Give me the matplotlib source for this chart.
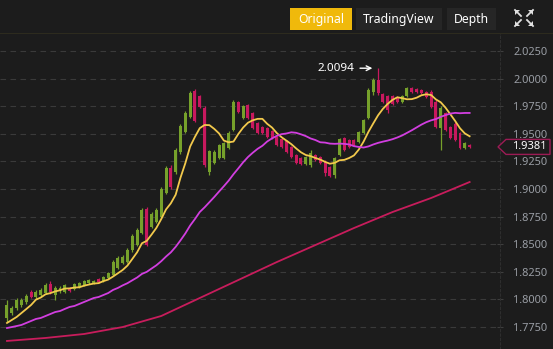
import matplotlib
matplotlib.use("Agg")
import matplotlib.pyplot as plt
import numpy as np
import pandas as pd
from matplotlib.patches import Rectangle, Polygon

plt.rcParams['font.family'] = ['Noto Sans', 'DejaVu Sans']

opens = [1.7831, 1.7876, 1.7922, 1.7949, 1.7976, 1.8067, 1.8021, 1.8039, 1.8057, 1.8139,
         1.8039, 1.8076, 1.8067, 1.8103, 1.8094, 1.8112, 1.8130, 1.8148, 1.8148, 1.8184,
         1.8166, 1.8193, 1.8221, 1.8284, 1.8329, 1.8338, 1.8447, 1.8492, 1.8601, 1.8819,
         1.8655, 1.8701, 1.8746, 1.8963, 1.9190, 1.9154, 1.9335, 1.9516, 1.9652, 1.9888,
         1.9842, 1.9734, 1.9154, 1.9235, 1.9281, 1.9281, 1.9371, 1.9534, 1.9788, 1.9643,
         1.9761, 1.9688, 1.9598, 1.9561, 1.9552, 1.9525, 1.9471, 1.9453, 1.9435, 1.9380,
         1.9308, 1.9281, 1.9226, 1.9217, 1.9308, 1.9290, 1.9244, 1.9199, 1.9127, 1.9308,
         1.9462, 1.9444, 1.9444, 1.9425, 1.9507, 1.9643, 1.9879, 1.9987, 1.9860, 1.9842,
         1.9842, 1.9833, 1.9788, 1.9842, 1.9915, 1.9906, 1.9897, 1.9879, 1.9879, 1.9788,
         1.9552, 1.9688, 1.9561, 1.9589, 1.9507, 1.9371, 1.9398]
highs = [1.7994, 1.7940, 1.8012, 1.8012, 1.8048, 1.8085, 1.8085, 1.8103, 1.8148, 1.8166,
         1.8121, 1.8121, 1.8139, 1.8112, 1.8148, 1.8157, 1.8175, 1.8184, 1.8175, 1.8193,
         1.8211, 1.8248, 1.8356, 1.8393, 1.8402, 1.8465, 1.8592, 1.8646, 1.8828, 1.8837,
         1.8791, 1.8828, 1.9018, 1.9208, 1.9217, 1.9371, 1.9589, 1.9706, 1.9888, 1.9906,
         1.9851, 1.9752, 1.9353, 1.9353, 1.9407, 1.9425, 1.9525, 1.9806, 1.9797, 1.9761,
         1.9770, 1.9697, 1.9607, 1.9570, 1.9561, 1.9534, 1.9480, 1.9462, 1.9444, 1.9389,
         1.9317, 1.9290, 1.9299, 1.9353, 1.9317, 1.9299, 1.9262, 1.9208, 1.9290, 1.9462,
         1.9471, 1.9453, 1.9453, 1.9525, 1.9634, 1.9915, 2.0005, 2.0094, 1.9869, 1.9851,
         1.9851, 1.9842, 1.9851, 1.9924, 1.9924, 1.9915, 1.9906, 1.9888, 1.9897, 1.9806,
         1.9752, 1.9697, 1.9570, 1.9607, 1.9516, 1.9425, 1.9407]
lows = [1.7795, 1.7858, 1.7903, 1.7931, 1.7958, 1.8012, 1.8003, 1.8021, 1.8048, 1.8048,
        1.7994, 1.8057, 1.8057, 1.8067, 1.8085, 1.8103, 1.8121, 1.8139, 1.8139, 1.8148,
        1.8157, 1.8184, 1.8211, 1.8275, 1.8320, 1.8329, 1.8429, 1.8483, 1.8592, 1.8483,
        1.8646, 1.8692, 1.8737, 1.8954, 1.9000, 1.9136, 1.9317, 1.9507, 1.9643, 1.9607,
        1.9734, 1.9199, 1.9127, 1.9226, 1.9272, 1.9272, 1.9362, 1.9525, 1.9688, 1.9634,
        1.9634, 1.9543, 1.9498, 1.9498, 1.9462, 1.9453, 1.9389, 1.9371, 1.9326, 1.9281,
        1.9226, 1.9217, 1.9217, 1.9199, 1.9253, 1.9226, 1.9117, 1.9108, 1.9099, 1.9299,
        1.9344, 1.9371, 1.9389, 1.9416, 1.9498, 1.9634, 1.9851, 1.9851, 1.9779, 1.9688,
        1.9761, 1.9779, 1.9779, 1.9833, 1.9869, 1.9869, 1.9860, 1.9824, 1.9734, 1.9552,
        1.9353, 1.9525, 1.9453, 1.9435, 1.9362, 1.9362, 1.9371]
closes = [1.7949, 1.7922, 1.7994, 1.7994, 1.8030, 1.8021, 1.8067, 1.8085, 1.8130, 1.8067,
          1.8103, 1.8103, 1.8130, 1.8076, 1.8139, 1.8148, 1.8166, 1.8175, 1.8166, 1.8157,
          1.8202, 1.8239, 1.8338, 1.8375, 1.8384, 1.8447, 1.8574, 1.8628, 1.8809, 1.8492,
          1.8773, 1.8809, 1.9000, 1.9190, 1.9018, 1.9353, 1.9570, 1.9688, 1.9869, 1.9616,
          1.9743, 1.9217, 1.9344, 1.9335, 1.9398, 1.9416, 1.9507, 1.9788, 1.9697, 1.9752,
          1.9643, 1.9552, 1.9507, 1.9507, 1.9471, 1.9462, 1.9398, 1.9380, 1.9335, 1.9290,
          1.9235, 1.9226, 1.9290, 1.9326, 1.9262, 1.9235, 1.9145, 1.9117, 1.9281, 1.9453,
          1.9353, 1.9380, 1.9398, 1.9516, 1.9625, 1.9897, 1.9987, 1.9869, 1.9788, 1.9715,
          1.9770, 1.9788, 1.9842, 1.9915, 1.9879, 1.9879, 1.9869, 1.9833, 1.9743, 1.9561,
          1.9734, 1.9534, 1.9462, 1.9444, 1.9371, 1.9416, 1.9381]

# MA7 / MA25 values before enough candles are visible
ma7_head = [1.7786, 1.7813, 1.7840, 1.7876, 1.7912, 1.7949]
ma25_head = [1.7740, 1.7749, 1.7758, 1.7768, 1.7786, 1.7804, 1.7822, 1.7831, 1.7849, 1.7867,
             1.7885, 1.7894, 1.7913, 1.7931, 1.7940, 1.7958, 1.7976, 1.7994, 1.8012, 1.8021,
             1.8039, 1.8057, 1.8085, 1.8103]
# MA99 at every 8th candle
ma99_idx = [0, 8, 16, 24, 32, 40, 48, 56, 64, 72, 80, 88, 96]
ma99_val = [1.7623, 1.7650, 1.7686, 1.7749, 1.7849, 1.8012, 1.8175, 1.8338, 1.8492, 1.8646,
            1.8791, 1.8918, 1.9063]

yticks = [1.775, 1.800, 1.825, 1.850, 1.875, 1.900, 1.925, 1.950, 1.975, 2.000, 2.025]
last_price = 1.9381
max_price = 2.0094
buttons = ["Original", "TradingView", "Depth"]

BG = "#1c1c1c"
GREEN = "#76a12b"
RED = "#c8195e"
YEL = "#f2c94c"
PUR = "#d23ee0"
CRIM = "#c81c5c"
GRAY = "#9a9ea5"

W, H = 553, 349
fig = plt.figure(figsize=(W / 100, H / 100), dpi=100, facecolor=BG)

ax_left, ax_right, ax_top = 0, 500, 33
ax = fig.add_axes([ax_left / W, 0, (ax_right - ax_left) / W, (H - ax_top) / H])
ax.set_facecolor(BG)

n = len(closes)
xs = np.arange(n)
c = pd.Series(closes)
ma7 = c.rolling(7).mean().to_numpy()
ma7[:6] = ma7_head
ma25 = c.rolling(25).mean().to_numpy()
ma25[:24] = ma25_head

for yv in yticks:
    ax.axhline(yv, color="#3a3a3a", lw=0.8, ls=(0, (5, 4)), zorder=0)

bw = 0.62
for i in range(n):
    o, h, l, cl = opens[i], highs[i], lows[i], closes[i]
    col = GREEN if cl >= o else RED
    ax.vlines(i, l, h, color=col, lw=0.9, zorder=2)
    lo, hi = min(o, cl), max(o, cl)
    ax.add_patch(Rectangle((i - bw / 2, lo), bw, max(hi - lo, 0.0004), facecolor=col,
                           edgecolor="none", zorder=3))

ax.plot(xs, ma7, color=YEL, lw=1.3, zorder=4)
ax.plot(xs, ma25, color=PUR, lw=1.3, zorder=4)
ax.plot(ma99_idx, ma99_val, color=CRIM, lw=1.3, zorder=4)

ax.set_xlim(-1.45, 102.3)
ax.set_ylim(1.7550, 2.0413)
ax.set_xticks([])
ax.yaxis.tick_right()
ax.set_yticks(yticks)
ax.set_yticklabels([f"{v:.4f}" for v in yticks])
ax.tick_params(axis="y", colors="#3e3e3e", labelcolor=GRAY, labelsize=7.9, length=5,
               direction="inout", pad=7, width=0.8)
for s in ["top", "bottom", "left"]:
    ax.spines[s].set_visible(False)
ax.spines["right"].set_color("#2e2e2e")
ax.spines["right"].set_linestyle((0, (2, 2)))

# max price annotation
imax = int(np.argmax(highs))
ax.annotate(f"{max_price:.4f}", xy=(imax - 0.6, max_price), xytext=(imax - 4.9, max_price),
            color="white", fontsize=8.4, va="center", ha="right",
            arrowprops=dict(arrowstyle="->", color="white", lw=1.0))

# top bar
fig.patches.append(Rectangle((0, (H - 32) / H), 1, 32 / H, transform=fig.transFigure,
                             facecolor=BG, edgecolor="none"))
fig.lines.append(plt.Line2D([0, 1], [(H - 32.5) / H] * 2, transform=fig.transFigure,
                            color="#2d2b1e", lw=0.8))
btn = [(290, 352, "#f0b90b"), (356, 442, "#262626"), (447, 496, "#262626")]
for (x0, x1, fc), lab in zip(btn, buttons):
    fig.patches.append(Rectangle((x0 / W, (H - 30) / H), (x1 - x0) / W, 22 / H,
                                 transform=fig.transFigure, facecolor=fc, edgecolor="none"))
    fig.text((x0 + x1) / 2 / W, (H - 19) / H, lab, color="white", fontsize=8.8,
             ha="center", va="center")
# expand icon
ix, iy = 524, 18
for dx, dy in [(-1, -1), (1, -1), (-1, 1), (1, 1)]:
    tipx, tipy = ix + dx * 9, iy + dy * 8
    pts = [(tipx, tipy), (tipx - dx * 5, tipy), (tipx, tipy - dy * 5)]
    fig.patches.append(Polygon([(px / W, (H - py) / H) for px, py in pts], closed=True,
                               transform=fig.transFigure, facecolor="#e0e0e0", edgecolor="none"))
    fig.lines.append(plt.Line2D([tipx / W, (tipx - dx * 6) / W],
                                [(H - tipy) / H, (H - (tipy - dy * 6)) / H],
                                transform=fig.transFigure, color="#e0e0e0", lw=1.3))

# last price tag
yp = ax.transData.transform((0, last_price))[1]
tag = [(498, yp), (506, yp + 7.5), (550, yp + 7.5), (550, yp - 7.5), (506, yp - 7.5)]
fig.patches.append(Polygon([(px / W, py / H) for px, py in tag], closed=True,
                           transform=fig.transFigure, facecolor=BG, edgecolor="#9c1b55", lw=1.0))
fig.text(529 / W, yp / H, f"{last_price:.4f}", color="white", fontsize=8.0, ha="center",
         va="center", fontweight="bold")

fig.savefig("out.png", dpi=100, facecolor=BG)
